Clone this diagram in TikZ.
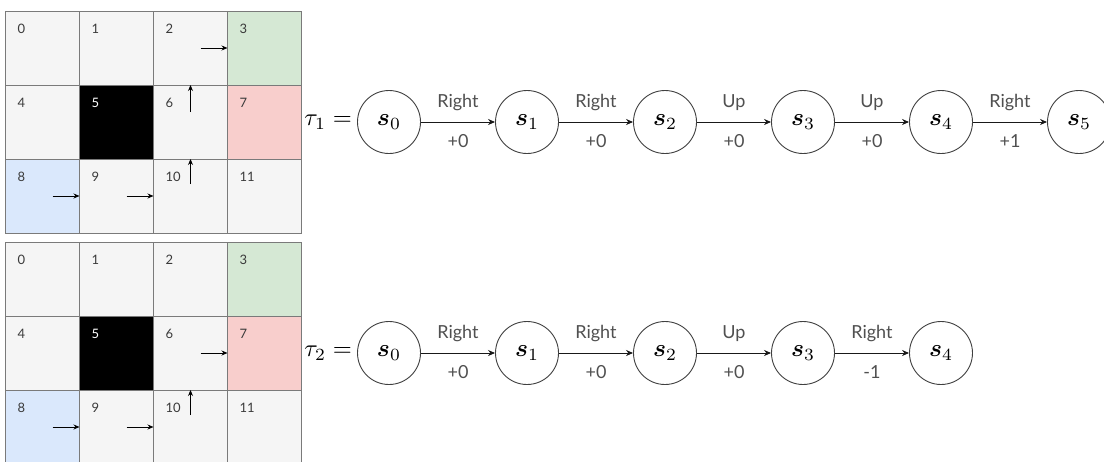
\documentclass[tikz,border=0pt]{standalone}
\usepackage[no-math]{fontspec}
\setmainfont{Lato}
\usepackage{amsmath}
\usepackage{graphicx}
\usetikzlibrary{arrows.meta}

\definecolor{cellgray}{HTML}{F5F5F5}
\definecolor{gridline}{HTML}{7A7A7A}
\definecolor{goalgreen}{HTML}{D5E8D4}
\definecolor{trapred}{HTML}{F8CECC}
\definecolor{startblue}{HTML}{DAE8FC}
\definecolor{labelgray}{HTML}{505050}
\definecolor{numgray}{HTML}{3A3A3A}

\tikzset{
  cell/.style={draw=gridline, fill=cellgray, line width=0.9pt,
    minimum width=74pt, minimum height=74pt, inner sep=0pt, outer sep=0pt},
  kind3/.style={fill=goalgreen},
  kind5/.style={fill=black},
  kind7/.style={fill=trapred},
  kind8/.style={fill=startblue},
  num/.style={anchor=west, inner sep=0pt, text=numgray,
    font=\fontsize{13}{15}\selectfont},
  num5/.style={text=white},
  move/.style={-{Stealth[length=6pt,width=5pt]}, line width=0.9pt, black},
  state/.style={circle, draw=black!75, line width=0.9pt, minimum size=63pt,
    inner sep=0pt},
  trans/.style={-{Stealth[length=7pt,width=6pt]}, line width=0.9pt, black!90},
  act/.style={text=labelgray, font=\fontsize{18}{21}\selectfont, inner sep=0pt},
  tau/.style={anchor=east, inner sep=0pt},
}

% state symbol and trajectory name, enlarged
\newcommand\stsym[1]{\scalebox{2.45}{$\boldsymbol{s}_{#1}$}}
\newcommand\trajname[1]{\scalebox{2.45}{$\tau_{#1} =$}}

% One 4x3 grid world: #1 = name prefix, #2 = top edge
\newcommand\gridworld[2]{%
  \foreach \r in {0,1,2}{%
    \foreach \c in {0,...,3}{%
      \pgfmathtruncatemacro\i{\r*4+\c}
      \node[cell, kind\i/.try] (#1\i) at (5.5+74*\c+37, #2+74*\r+37) {};
      \node[num, num\i/.try] at ([xshift=12pt, yshift=-18pt]#1\i.north west) {\i};
    }%
  }%
}

\begin{document}
\begin{tikzpicture}[x=1pt, y=-1pt]
\useasboundingbox (0,0) rectangle (1104,461);
\clip (0,0) rectangle (1104,461);
\fill[white] (0,0) rectangle (1104,461);

% ---- first episode ----
\gridworld{a}{11}
\draw[move] ([xshift=-27pt]a2.east) -- (a2.east);
\draw[move] ([yshift=-27pt]a6.north) -- (a6.north);
\draw[move] ([xshift=-27pt]a8.east) -- (a8.east);
\draw[move] ([xshift=-27pt]a9.east) -- (a9.east);
\draw[move] ([yshift=-25pt]a10.north) -- (a10.north);

\foreach \k in {0,...,5}
  \node[state] (p\k) at (389+138*\k, 122) {\stsym{\k}};
\node[tau] (t1) at ([xshift=-5pt]p0.west) {\trajname{1}};

\draw[trans] (p0) -- node[act, yshift=19pt]{Right} node[act, yshift=-19pt]{+0} (p1);
\draw[trans] (p1) -- node[act, yshift=19pt]{Right} node[act, yshift=-19pt]{+0} (p2);
\draw[trans] (p2) -- node[act, yshift=19pt]{Up} node[act, yshift=-19pt]{+0} (p3);
\draw[trans] (p3) -- node[act, yshift=19pt]{Up} node[act, yshift=-19pt]{+0} (p4);
\draw[trans] (p4) -- node[act, yshift=19pt]{Right} node[act, yshift=-19pt]{+1} (p5);

% ---- second episode ----
\gridworld{b}{242}
\draw[move] ([xshift=-27pt]b6.east) -- (b6.east);
\draw[move] ([xshift=-27pt]b8.east) -- (b8.east);
\draw[move] ([xshift=-27pt]b9.east) -- (b9.east);
\draw[move] ([yshift=-25pt]b10.north) -- (b10.north);

\foreach \k in {0,...,4}
  \node[state] (q\k) at (389+138*\k, 353) {\stsym{\k}};
\node[tau] (t2) at ([xshift=-5pt]q0.west) {\trajname{2}};

\draw[trans] (q0) -- node[act, yshift=19pt]{Right} node[act, yshift=-19pt]{+0} (q1);
\draw[trans] (q1) -- node[act, yshift=19pt]{Right} node[act, yshift=-19pt]{+0} (q2);
\draw[trans] (q2) -- node[act, yshift=19pt]{Up} node[act, yshift=-19pt]{+0} (q3);
\draw[trans] (q3) -- node[act, yshift=19pt]{Right} node[act, yshift=-19pt]{-1} (q4);
\end{tikzpicture}
\end{document}
